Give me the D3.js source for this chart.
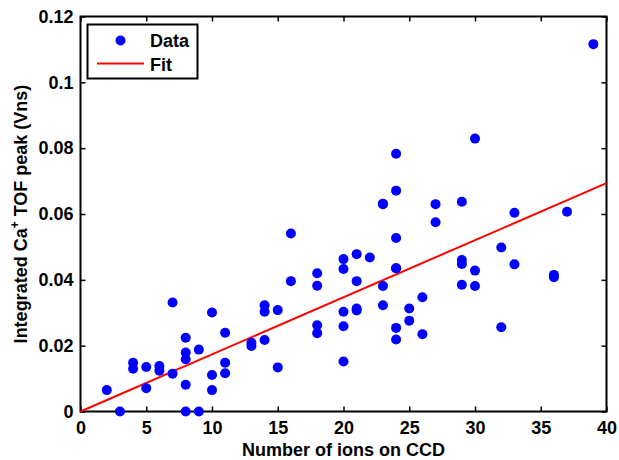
<!DOCTYPE html>
<html>
<head>
<meta charset="utf-8">
<script src="https://cdn.jsdelivr.net/npm/d3@7"></script>
<style>
  body { margin: 0; background: #fff; }
  text { font-family: "Liberation Sans", Arial, sans-serif; font-weight: bold; }
</style>
</head>
<body>
<div id="chart"></div>
<script>
// ions counted on the CCD for each shot
const ions = [2, 3, 4, 4, 5, 5, 6, 6, 7, 7, 8, 8, 8, 8, 8, 9, 9, 10, 10, 10,
  11, 11, 11, 13, 13, 14, 14, 14, 15, 15, 16, 16, 18, 18, 18, 18,
  20, 20, 20, 20, 20, 21, 21, 21, 21, 22, 23, 23, 23, 23, 24, 24, 24, 24, 24, 24, 24,
  25, 25, 26, 26, 27, 27, 29, 29, 29, 29, 30, 30, 30, 32, 32, 33, 33, 36, 36, 37, 39];
// integrated TOF peak (Vns)
const peak = [0.0065, 0.0, 0.0148, 0.0130, 0.0135, 0.0071, 0.0138, 0.0124, 0.0331, 0.0115,
  0.0224, 0.0179, 0.0159, 0.0081, 0.0, 0.0188, 0.0, 0.0301, 0.0111, 0.0065,
  0.0239, 0.0148, 0.0116, 0.0209, 0.0199, 0.0323, 0.0303, 0.0217, 0.0308, 0.0134, 0.0541, 0.0396,
  0.0420, 0.0382, 0.0262, 0.0238,
  0.0463, 0.0433, 0.0303, 0.0259, 0.0152, 0.0478, 0.0396, 0.0313, 0.0307, 0.0468,
  0.0631, 0.0381, 0.0323, 0.0630, 0.0783, 0.0671, 0.0527, 0.0435, 0.0254, 0.0219, 0.0435,
  0.0313, 0.0276, 0.0347, 0.0235, 0.0630, 0.0575, 0.0637, 0.0460, 0.0448, 0.0385,
  0.0829, 0.0428, 0.0381, 0.0498, 0.0256, 0.0604, 0.0447, 0.0415, 0.0408, 0.0607, 0.1116];
const points = ions.map((d, i) => ({x: d, y: peak[i]}));

// linear fit through the origin
const fitX = [0, 40];
const fitSlope = 0.001735;

const xTicks = [0, 5, 10, 15, 20, 25, 30, 35, 40];
const yTicks = [0, 0.02, 0.04, 0.06, 0.08, 0.1, 0.12];

const width = 619, height = 460;
const margin = {top: 16.5, right: 12.5, bottom: 48.5, left: 80.5};
const w = width - margin.left - margin.right;
const h = height - margin.top - margin.bottom;
const fontSize = 18;

const svg = d3.select('#chart').append('svg')
    .attr('width', width)
    .attr('height', height);

const chart = svg.append('g')
    .attr('transform', `translate(${margin.left},${margin.top})`);

const xScale = d3.scaleLinear().domain([0, 40]).range([0, w]);
const yScale = d3.scaleLinear().domain([0, 0.12]).range([h, 0]);

const fmt = d => d === 0 ? '0' : String(+d.toFixed(2));

// axes with inward ticks on all four sides
chart.append('g')
    .attr('transform', `translate(0,${h})`)
    .call(d3.axisBottom(xScale).tickValues(xTicks).tickSize(-5).tickPadding(10).tickFormat(d => d))
    .call(g => g.select('.domain').remove());
chart.append('g')
    .call(d3.axisTop(xScale).tickValues(xTicks).tickSize(-5).tickFormat(''))
    .call(g => g.select('.domain').remove());
chart.append('g')
    .call(d3.axisLeft(yScale).tickValues(yTicks).tickSize(-5).tickPadding(7).tickFormat(fmt))
    .call(g => g.select('.domain').remove());
chart.append('g')
    .attr('transform', `translate(${w},0)`)
    .call(d3.axisRight(yScale).tickValues(yTicks).tickSize(-5).tickFormat(''))
    .call(g => g.select('.domain').remove());

chart.selectAll('.tick line').attr('stroke', '#000').attr('stroke-width', 1.5);
chart.selectAll('.tick text').attr('font-size', fontSize).attr('fill', '#000');

chart.append('rect')
    .attr('width', w)
    .attr('height', h)
    .attr('fill', 'none')
    .attr('stroke', '#000')
    .attr('stroke-width', 2);

// fit line
chart.append('line')
    .attr('x1', xScale(fitX[0]))
    .attr('y1', yScale(fitX[0] * fitSlope))
    .attr('x2', xScale(fitX[1]))
    .attr('y2', yScale(fitX[1] * fitSlope))
    .attr('stroke', '#ff0000')
    .attr('stroke-width', 2);

// data points
chart.selectAll('.point')
    .data(points)
    .join('circle')
    .attr('class', 'point')
    .attr('r', 5)
    .attr('cx', d => xScale(d.x))
    .attr('cy', d => yScale(d.y))
    .attr('fill', '#0000ff');

// axis titles
svg.append('text')
    .attr('x', margin.left + w / 2)
    .attr('y', 456)
    .attr('text-anchor', 'middle')
    .attr('font-size', fontSize)
    .text('Number of ions on CCD');

const yTitle = svg.append('text')
    .attr('transform', `translate(27,${margin.top + h / 2}) rotate(-90)`)
    .attr('text-anchor', 'middle')
    .attr('font-size', fontSize);
yTitle.append('tspan').text('Integrated Ca');
yTitle.append('tspan').attr('dy', -8).attr('font-size', 12).text('+');
yTitle.append('tspan').attr('dy', 8).text(' TOF peak (Vns)');

// legend
const legend = svg.append('g');
legend.append('rect')
    .attr('x', 87.5).attr('y', 24.5)
    .attr('width', 110).attr('height', 54)
    .attr('fill', '#fff')
    .attr('stroke', '#000')
    .attr('stroke-width', 2);
legend.append('circle')
    .attr('cx', 120.5).attr('cy', 40.5).attr('r', 5)
    .attr('fill', '#0000ff');
legend.append('text')
    .attr('x', 150).attr('y', 47)
    .attr('font-size', fontSize)
    .text('Data');
legend.append('line')
    .attr('x1', 97).attr('x2', 144)
    .attr('y1', 63.5).attr('y2', 63.5)
    .attr('stroke', '#ff0000')
    .attr('stroke-width', 2);
legend.append('text')
    .attr('x', 150).attr('y', 71)
    .attr('font-size', fontSize)
    .text('Fit');
</script>
</body>
</html>
